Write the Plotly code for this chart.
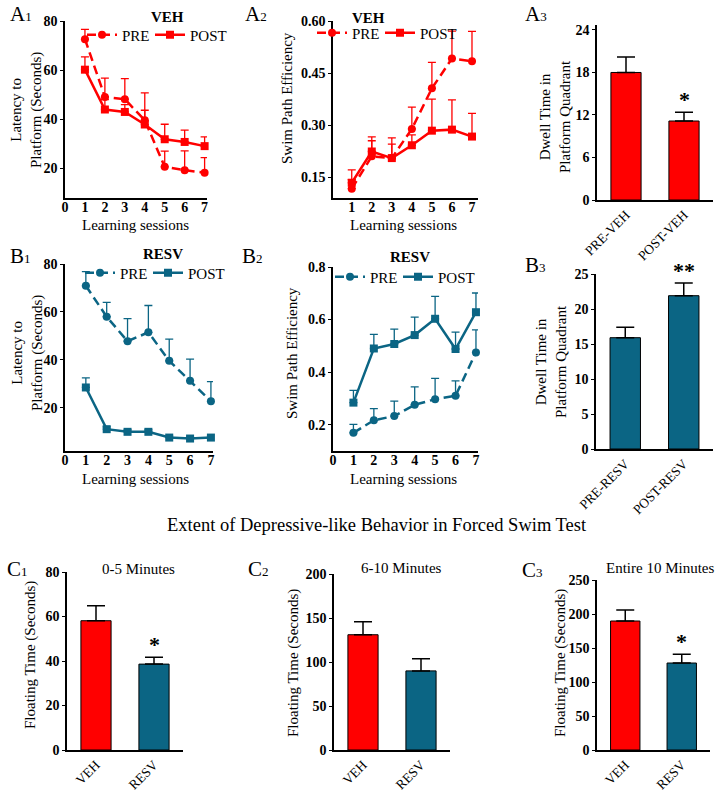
import plotly.graph_objects as go

W, H = 719, 792
FONT = "Liberation Serif, Times New Roman, serif"
RED = "#FF0000"
TEAL = "#0B6584"

sessions = [1, 2, 3, 4, 5, 6, 7]

# A1: latency, VEH
a1_pre = [72.6, 49.1, 48.2, 39.6, 20.7, 19.3, 18.3]
a1_pre_err = [4.0, 7.7, 8.4, 11.2, 6.4, 7.9, 6.1]
a1_post = [60.2, 44.0, 43.0, 37.9, 31.9, 30.8, 29.1]
a1_post_err = [5.2, 4.0, 3.0, 5.8, 6.1, 4.8, 3.8]

# A2: swim path efficiency, VEH
a2_pre = [0.117, 0.210, 0.205, 0.289, 0.406, 0.492, 0.484]
a2_pre_err = [0.026, 0.045, 0.040, 0.063, 0.075, 0.079, 0.086]
a2_post = [0.134, 0.224, 0.205, 0.242, 0.284, 0.287, 0.267]
a2_post_err = [0.037, 0.042, 0.058, 0.030, 0.091, 0.086, 0.067]

# A3: dwell time, VEH
a3_cats = ["PRE-VEH", "POST-VEH"]
a3_vals = [18.0, 11.15]
a3_err = [2.2, 1.25]

# B1: latency, RESV
b1_pre = [70.9, 58.0, 47.8, 51.5, 39.6, 31.3, 22.8]
b1_pre_err = [5.9, 6.0, 9.4, 11.2, 9.1, 9.0, 8.1]
b1_post = [28.5, 11.1, 10.0, 10.0, 7.6, 7.2, 7.6]
b1_post_err = [4.0, 1.0, 0.8, 0.8, 0.6, 0.6, 0.6]

# B2: swim path efficiency, RESV
b2_pre = [0.169, 0.217, 0.233, 0.276, 0.297, 0.310, 0.475]
b2_pre_err = [0.032, 0.044, 0.057, 0.068, 0.079, 0.057, 0.086]
b2_post = [0.284, 0.490, 0.507, 0.541, 0.603, 0.488, 0.628]
b2_post_err = [0.047, 0.054, 0.057, 0.068, 0.085, 0.064, 0.073]

# B3: dwell time, RESV
b3_cats = ["PRE-RESV", "POST-RESV"]
b3_vals = [15.9, 21.9]
b3_err = [1.5, 1.8]

# C: forced swim test floating time
c_cats = ["VEH", "RESV"]
c1_vals = [58.1, 38.6]
c1_err = [6.7, 3.1]
c2_vals = [131.0, 89.9]
c2_err = [14.7, 13.7]
c3_vals = [189.7, 127.9]
c3_err = [16.2, 12.8]


def X(p):
    return p / W


def Y(p):
    return 1 - p / H


fig = go.Figure()


def line_trace(y, err, name, color, dash, symbol, n, legend):
    return go.Scatter(
        x=sessions, y=y, name=name, mode="lines+markers",
        line=dict(color=color, width=2.5, dash=dash),
        marker=dict(color=color, size=8, symbol=symbol),
        error_y=dict(type="data", symmetric=False, array=err,
                     arrayminus=[0] * len(err), color=color,
                     thickness=1.3, width=4),
        xaxis="x" + ("" if n == 1 else str(n)),
        yaxis="y" + ("" if n == 1 else str(n)),
        legend=legend, cliponaxis=False,
    )


def bar_trace(cats, vals, err, colors, n):
    return go.Bar(
        x=cats, y=vals, width=0.52,
        marker=dict(color=colors, line=dict(color="black", width=1)),
        error_y=dict(type="data", symmetric=False, array=err,
                     arrayminus=[0] * len(err), color="black",
                     thickness=1.5, width=9),
        xaxis="x" + str(n), yaxis="y" + str(n), showlegend=False,
    )


DASH = "9px,5px"
fig.add_trace(line_trace(a1_pre, a1_pre_err, "PRE", RED, DASH, "circle", 1, "legend"))
fig.add_trace(line_trace(a1_post, a1_post_err, "POST", RED, "solid", "square", 1, "legend2"))
fig.add_trace(line_trace(a2_pre, a2_pre_err, "PRE", RED, DASH, "circle", 2, "legend3"))
fig.add_trace(line_trace(a2_post, a2_post_err, "POST", RED, "solid", "square", 2, "legend4"))
fig.add_trace(bar_trace(a3_cats, a3_vals, a3_err, [RED, RED], 3))
fig.add_trace(line_trace(b1_pre, b1_pre_err, "PRE", TEAL, DASH, "circle", 4, "legend5"))
fig.add_trace(line_trace(b1_post, b1_post_err, "POST", TEAL, "solid", "square", 4, "legend6"))
fig.add_trace(line_trace(b2_pre, b2_pre_err, "PRE", TEAL, DASH, "circle", 5, "legend7"))
fig.add_trace(line_trace(b2_post, b2_post_err, "POST", TEAL, "solid", "square", 5, "legend8"))
fig.add_trace(bar_trace(b3_cats, b3_vals, b3_err, [TEAL, TEAL], 6))
fig.add_trace(bar_trace(c_cats, c1_vals, c1_err, [RED, TEAL], 7))
fig.add_trace(bar_trace(c_cats, c2_vals, c2_err, [RED, TEAL], 8))
fig.add_trace(bar_trace(c_cats, c3_vals, c3_err, [RED, TEAL], 9))

tickfont_b = dict(family=FONT, size=14, color="black", weight="bold")
tickfont_r = dict(family=FONT, size=13.5, color="black")

base_axis = dict(showline=True, linecolor="black", linewidth=1.5,
                 showgrid=False, zeroline=False, ticks="outside",
                 ticklen=3, tickwidth=1.2, tickcolor="black",
                 automargin=False)

# panel pixel boxes: (x0, x1, ytop, ybottom)
boxes = {
    1: (65, 207, 21, 198),
    2: (333, 478, 21, 198),
    3: (597, 713, 25, 200),
    4: (65, 213, 264, 451),
    5: (333, 478, 267, 451),
    6: (596, 713, 274, 449),
    7: (67, 183, 572, 750),
    8: (334, 450, 574, 750),
    9: (597, 710, 580, 750),
}

yspecs = {
    1: ([8, 80], [20, 40, 60, 80], None),
    2: ([0.09, 0.60], [0.15, 0.30, 0.45, 0.60], ["0.15", "0.30", "0.45", "0.60"]),
    3: ([0, 24.7], [0, 6, 12, 18, 24], None),
    4: ([2, 80], [20, 40, 60, 80], None),
    5: ([0.1, 0.8], [0.2, 0.4, 0.6, 0.8], ["0.2", "0.4", "0.6", "0.8"]),
    6: ([0, 25], [0, 5, 10, 15, 20, 25], None),
    7: ([0, 80], [0, 20, 40, 60, 80], None),
    8: ([0, 200], [0, 50, 100, 150, 200], None),
    9: ([0, 250], [0, 50, 100, 150, 200, 250], None),
}

xspecs = {
    1: dict(range=[0, 7.12], tickvals=list(range(0, 8))),
    2: dict(range=[0.065, 7.3], tickvals=list(range(1, 8))),
    4: dict(range=[0, 7.1], tickvals=list(range(0, 8))),
    5: dict(range=[0, 7.1], tickvals=list(range(0, 8))),
}

layout = {}
for n, (x0, x1, yt, yb) in boxes.items():
    sfx = "" if n == 1 else str(n)
    xa = dict(base_axis, domain=[X(x0), X(x1)], anchor="y" + sfx)
    if n in xspecs:
        xa.update(xspecs[n])
        xa.update(tickfont=tickfont_b, ticks="", ticklabelstandoff=-5)
    else:
        xa.update(type="category", range=[-0.5, 1.5], tickangle=-45,
                  tickfont=tickfont_r, ticks="")
    ya = dict(base_axis, domain=[Y(yb), Y(yt)], anchor="x" + sfx,
              range=yspecs[n][0], tickvals=yspecs[n][1], tickfont=tickfont_b)
    if yspecs[n][2]:
        ya["ticktext"] = yspecs[n][2]
    layout["xaxis" + sfx] = xa
    layout["yaxis" + sfx] = ya


def leg(xp, yp):
    return dict(x=X(xp), y=Y(yp), xanchor="left", yanchor="middle",
                orientation="h", font=dict(family=FONT, size=15, color="black"),
                bgcolor="rgba(0,0,0,0)", itemwidth=30, borderwidth=0)


layout["legend"] = leg(82, 35)
layout["legend2"] = leg(150, 35)
layout["legend3"] = leg(312, 33)
layout["legend4"] = leg(380, 33)
layout["legend5"] = leg(80, 273)
layout["legend6"] = leg(148, 273)
layout["legend7"] = leg(330, 277)
layout["legend8"] = leg(398, 277)

ann = []


def txt(x, y, s, size=15, bold=False, angle=0, xanchor="center", yanchor="middle"):
    f = dict(family=FONT, size=size, color="black")
    if bold:
        f["weight"] = "bold"
    ann.append(dict(x=X(x), y=Y(y), xref="paper", yref="paper", text=s,
                    showarrow=False, font=f, textangle=angle,
                    xanchor=xanchor, yanchor=yanchor))


def panel(x, y, letter, num):
    txt(x, y, letter + "<span style='font-size:13px'>" + num + "</span>",
        size=21, xanchor="left")


panel(8, 14, "A", "1")
panel(243, 14, "A", "2")
panel(523, 14, "A", "3")
panel(8, 256, "B", "1")
panel(240, 256, "B", "2")
panel(523, 265, "B", "3")
panel(5, 569, "C", "1")
panel(246, 569, "C", "2")
panel(520, 570, "C", "3")

txt(167, 17, "VEH", bold=True)
txt(368, 18, "VEH", bold=True)
txt(163, 254, "RESV", bold=True)
txt(410, 257, "RESV", bold=True)

txt(27, 110, "Latency to<br>Platform (Seconds)", angle=-90)
txt(27, 353, "Latency to<br>Platform (Seconds)", angle=-90)
txt(287, 98, "Swim Path Efficiency", angle=-90)
txt(292, 353, "Swim Path Efficiency", angle=-90)
txt(555, 117, "Dwell Time in<br>Platform Quadrant", angle=-90)
txt(551, 362, "Dwell Time in<br>Platform Quadrant", angle=-90)
txt(30, 655, "Floating Time (Seconds)", angle=-90)
txt(293, 663, "Floating Time (Seconds)", angle=-90)
txt(560, 663, "Floating Time (Seconds)", angle=-90)

txt(135, 225, "Learning sessions")
txt(403, 225, "Learning sessions")
txt(135, 479, "Learning sessions")
txt(403, 479, "Learning sessions")

txt(138, 569, "0-5 Minutes")
txt(402, 568, "6-10 Minutes")
txt(660, 568, "Entire 10 Minutes")

txt(377, 525, "Extent of Depressive-like Behavior in Forced Swim Test", size=18.5)


def star(n, cat, val, s):
    ann.append(dict(x=cat, y=val, xref="x" + str(n), yref="y" + str(n),
                    text=s, showarrow=False, yanchor="bottom", yshift=-2,
                    font=dict(family=FONT, size=22, color="black", weight="bold")))


star(3, a3_cats[1], a3_vals[1] + a3_err[1], "*")
star(6, b3_cats[1], b3_vals[1] + b3_err[1], "**")
star(7, c_cats[1], c1_vals[1] + c1_err[1], "*")
star(9, c_cats[1], c3_vals[1] + c3_err[1], "*")

layout["annotations"] = ann
layout.update(template="none", width=W, height=H,
              margin=dict(l=0, r=0, t=0, b=0, autoexpand=False),
              paper_bgcolor="white", plot_bgcolor="white",
              font=dict(family=FONT, color="black"), barmode="group")

fig.update_layout(**layout)
fig.write_html("out.html", config={"displayModeBar": False},
               post_script="document.body.style.margin='0';document.body.style.padding='0';")
